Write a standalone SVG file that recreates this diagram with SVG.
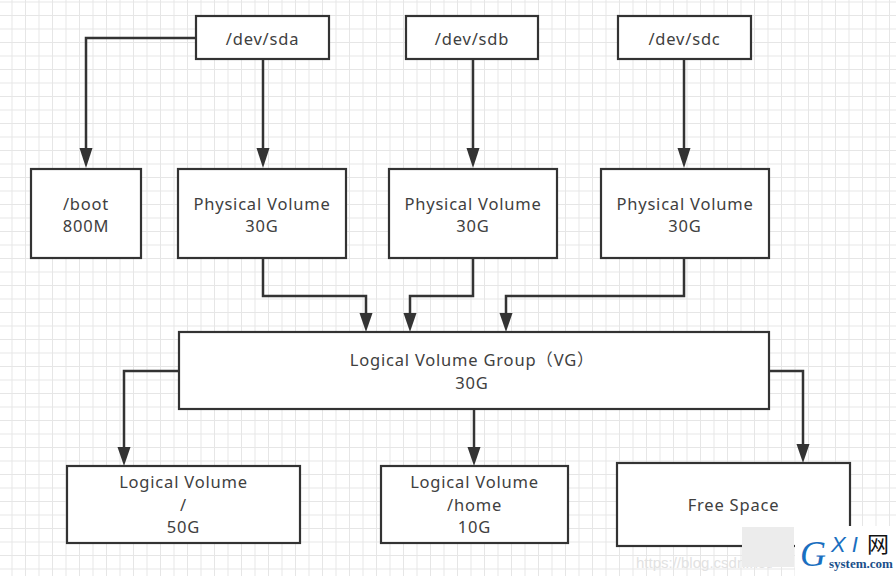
<svg xmlns="http://www.w3.org/2000/svg" width="896" height="576" viewBox="0 0 896 576">
  <defs>
    <pattern id="grid" patternUnits="userSpaceOnUse" x="11.5" y="1.5" width="13.5" height="13.5">
      <path d="M0.5,0 V13.5 M0,0.5 H13.5" stroke="#e6e6e6" stroke-width="1" fill="none"/>
    </pattern>
    <style>
      .box { fill: #fff; stroke: #333; stroke-width: 2.2; }
      .t { font-family: "Noto Sans", "Open Sans", "Noto Sans CJK SC", sans-serif; font-size: 16.5px; letter-spacing: 0.8px; fill: #404040; text-anchor: middle; }
      .c { fill: none; stroke: #333; stroke-width: 2.5; }
    </style>
  </defs>
  <rect width="896" height="576" fill="#fff"/>
  <rect width="896" height="576" fill="url(#grid)"/>

  <g id="connectors">
    <path class="c" d="M196,38 H86 V150" />
    <path class="c" d="M263,59 V150" />
    <path class="c" d="M473,59 V150" />
    <path class="c" d="M684,59 V150" />
    <path class="c" d="M263,258 V296 H366 V315" />
    <path class="c" d="M473,258 V296 H410 V315" />
    <path class="c" d="M684,258 V296 H506 V315" />
    <path class="c" d="M179,371 H124 V448" />
    <path class="c" d="M474,409 V448" />
    <path class="c" d="M769,371 H803 V445" />
    <g fill="#333">
      <path d="M79.5,148 H92.5 L86,168 Z"/>
      <path d="M256.5,148 H269.5 L263,168 Z"/>
      <path d="M466.5,148 H479.5 L473,168 Z"/>
      <path d="M677.5,148 H690.5 L684,168 Z"/>
      <path d="M359.5,313 H372.5 L366,332 Z"/>
      <path d="M403.5,313 H416.5 L410,332 Z"/>
      <path d="M499.5,313 H512.5 L506,332 Z"/>
      <path d="M117.5,447 H130.5 L124,466 Z"/>
      <path d="M467.5,447 H480.5 L474,466 Z"/>
      <path d="M796.5,444 H809.5 L803,463 Z"/>
    </g>
  </g>

  <g id="sda"><rect class="box" x="196" y="16" width="133" height="43"/><text class="t" x="262.5" y="45">/dev/sda</text></g>
  <g id="sdb"><rect class="box" x="406" y="16" width="132" height="43"/><text class="t" x="472" y="45">/dev/sdb</text></g>
  <g id="sdc"><rect class="box" x="618" y="16" width="133" height="43"/><text class="t" x="684.5" y="45">/dev/sdc</text></g>

  <g id="boot"><rect class="box" x="31" y="169" width="110" height="89"/><text class="t" x="86" y="209.5">/boot</text><text class="t" x="86" y="232">800M</text></g>
  <g id="pv1"><rect class="box" x="178" y="169" width="168" height="89"/><text class="t" x="262" y="209.5">Physical Volume</text><text class="t" x="262" y="232">30G</text></g>
  <g id="pv2"><rect class="box" x="389" y="169" width="168" height="89"/><text class="t" x="473" y="209.5">Physical Volume</text><text class="t" x="473" y="232">30G</text></g>
  <g id="pv3"><rect class="box" x="601" y="169" width="168" height="89"/><text class="t" x="685" y="209.5">Physical Volume</text><text class="t" x="685" y="232">30G</text></g>

  <g id="vg"><rect class="box" x="179" y="332" width="590" height="77"/><text class="t" x="472" y="366">Logical Volume Group（VG）</text><text class="t" x="472" y="389">30G</text></g>

  <g id="lv1"><rect class="box" x="67" y="466" width="233" height="77"/><text class="t" x="183.5" y="488">Logical Volume</text><text class="t" x="183.5" y="510.5">/</text><text class="t" x="183.5" y="533">50G</text></g>
  <g id="lv2"><rect class="box" x="381" y="466" width="187" height="77"/><text class="t" x="474.5" y="488">Logical Volume</text><text class="t" x="474.5" y="510.5">/home</text><text class="t" x="474.5" y="533">10G</text></g>
  <g id="free"><rect class="box" x="617" y="463" width="233" height="83"/><text class="t" x="733.5" y="511">Free Space</text></g>

  <g id="watermark">
    <text x="636" y="568" font-family="Liberation Sans, sans-serif" font-size="15" fill="#e2e2e2">https://blog.csdn.net/</text>
    <rect x="742" y="527" width="52" height="40" fill="#ececec"/>
    <rect x="795" y="526" width="101" height="50" fill="#fff"/>
    <text x="800" y="566" font-family="Liberation Serif, serif" font-style="italic" font-size="36" fill="#1a6fc0">G</text>
    <text x="831" y="552" font-family="Liberation Sans, sans-serif" font-style="italic" font-size="22" fill="#1a6fc0">X I</text>
    <text x="867" y="552" font-family="Noto Sans CJK SC, sans-serif" font-size="22" fill="#111">网</text>
    <text x="829" y="568" font-family="Liberation Serif, serif" font-weight="bold" font-size="13" fill="#1a4f8a">system.com</text>
  </g>
</svg>
